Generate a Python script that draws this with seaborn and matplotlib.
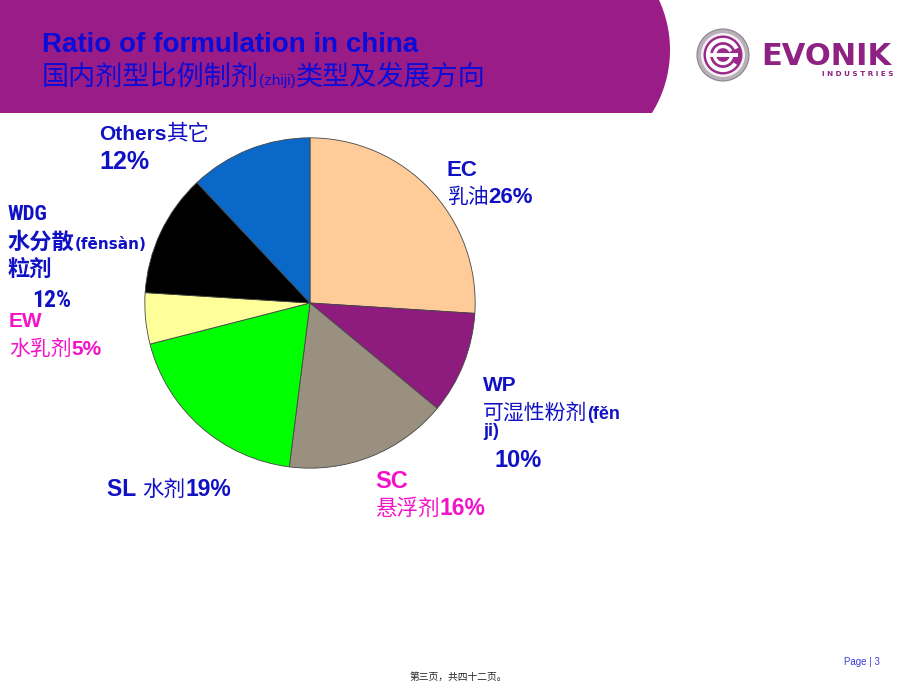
import numpy as np
import matplotlib
matplotlib.use("Agg")
import matplotlib.pyplot as plt
import seaborn as sns
from matplotlib.patches import Polygon, Circle, Arc
from matplotlib import font_manager as fm

# ---- data ----
categories = ["EC", "WP", "SC", "SL", "EW", "WDG", "Others"]
names_cn = ["乳油", "可湿性粉剂", "悬浮剂", "水剂", "水乳剂", "水分散粒剂", "其它"]
shares = [26, 10, 16, 19, 5, 12, 12]
slice_colors = ["#FFCC99", "#8E1B7E", "#999080", "#00FF00", "#FFFF99", "#000000", "#0A68C8"]

title_en = "Ratio of formulation in china"
title_cn_a = "国内剂型比例制剂"
title_cn_b = "(zhiji)"
title_cn_c = "类型及发展方向"

sns.set_theme(style="white")
plt.rcParams["font.family"] = ["Liberation Sans", "Noto Sans CJK SC", "DejaVu Sans"]

# narrow font for the WDG label if one is installed
NARROW = "DejaVu Sans"
NARROW_STRETCH = "normal"
_names = {f.name for f in fm.fontManager.ttflist}
for cand in ["Liberation Sans Narrow", "Arial Narrow", "Roboto Condensed",
             "Open Sans Condensed", "DejaVu Sans Condensed"]:
    if cand in _names:
        NARROW = cand
        break
else:
    if any(f.name == "DejaVu Sans" and f.stretch in ("condensed", "semi-condensed")
           for f in fm.fontManager.ttflist):
        NARROW_STRETCH = "condensed"

W, H = 920, 690
fig = plt.figure(figsize=(W / 100, H / 100), dpi=100)
ax = fig.add_axes([0, 0, 1, 1])
ax.set_xlim(0, W)
ax.set_ylim(H, 0)
ax.axis("off")
renderer = fig.canvas.get_renderer()

BLUE = "#1010C4"
MAG = "#F412C8"
LAT = "Liberation Sans"
CJK = "Noto Sans CJK SC"

# ---- header band ----
R, yc, xr = 119.0, 50.0, 670.0
ys = np.linspace(0, 113, 60)
xs = xr - R + np.sqrt(R ** 2 - (ys - yc) ** 2)
pts = [(0, 0)] + list(zip(xs, ys)) + [(0, 113)]
ax.add_patch(Polygon(pts, closed=True, facecolor="#9A1C86", edgecolor="none"))


def mixed(x, y, parts, color, stretch="normal"):
    cur = x
    for s, size, weight, fam in parts:
        t = ax.text(cur, y, s, fontsize=size, fontweight=weight, color=color,
                    family=[fam, CJK, "DejaVu Sans"], fontstretch=stretch,
                    ha="left", va="baseline")
        cur += t.get_window_extent(renderer).width


# title
mixed(42, 52, [(title_en, 20, "bold", LAT)], "#0C0CD8")
mixed(42, 85, [(title_cn_a, 19.5, "normal", CJK), (title_cn_b, 11, "normal", LAT),
               (title_cn_c, 19.5, "normal", CJK)], "#0C0CD8")

# ---- logo ----
cx, cy = 723, 55
ax.add_patch(Circle((cx, cy), 26, facecolor="#B8B0B8", edgecolor="#8C848C", lw=0.8))
ax.add_patch(Circle((cx, cy), 22, facecolor="#F4F0F4", edgecolor="none"))
ax.add_patch(Circle((cx, cy), 19.5, facecolor="#9A2A8A", edgecolor="none"))
ax.add_patch(Arc((cx, cy), 30, 30, theta1=35, theta2=335, color="white", lw=3.0))
ax.add_patch(Arc((cx, cy), 17, 17, theta1=10, theta2=335, color="white", lw=2.4))
ax.plot([cx - 15, cx + 15], [cy, cy], color="white", lw=2.8, solid_capstyle="butt")
ax.text(761, 65, "EVONIK", fontsize=22, fontweight="bold", color="#8E2282",
        family="DejaVu Sans", ha="left", va="baseline")
ax.text(894, 75.5, "I N D U S T R I E S", fontsize=5.2, fontweight="bold",
        color="#8E2282", family="DejaVu Sans", ha="right", va="baseline")

# ---- pie ----
pcx, pcy, pr = 310, 303, 166
pax = fig.add_axes([(pcx - pr) / W, 1 - (pcy + pr) / H, 2 * pr / W, 2 * pr / H])
pax.pie(shares, colors=slice_colors, startangle=90, counterclock=False, radius=1,
        wedgeprops=dict(edgecolor="#454545", linewidth=0.6))
pax.set_xlim(-1.005, 1.005)
pax.set_ylim(-1.005, 1.005)
pax.set_aspect("equal")
pax.axis("off")

pct = {c: f"{v}%" for c, v in zip(categories, shares)}

# ---- labels ----
# Others
mixed(99, 140, [("Others", 15, "bold", LAT), (names_cn[6], 15.5, "normal", CJK)], BLUE)
mixed(99, 169, [(pct["Others"], 18, "bold", LAT)], BLUE)
# EC
mixed(447, 176, [("EC", 16, "bold", LAT)], BLUE)
mixed(447, 203, [(names_cn[0], 15, "normal", CJK), (pct["EC"], 16, "bold", LAT)], BLUE)
# WP
mixed(483, 391, [("WP", 15, "bold", LAT)], BLUE)
mixed(483, 419, [(names_cn[1], 15, "normal", CJK), ("(fěn", 13, "bold", LAT)], BLUE)
mixed(483, 436, [("ji)", 13, "bold", LAT)], BLUE)
mixed(495, 467, [(pct["WP"], 17, "bold", LAT)], BLUE)
# SC
mixed(375, 488, [("SC", 17, "bold", LAT)], MAG)
mixed(375, 515, [(names_cn[2], 15.5, "normal", CJK), (pct["SC"], 16.5, "bold", LAT)], MAG)
# SL
mixed(107, 496, [("SL ", 16.5, "bold", LAT), (names_cn[3], 15.5, "normal", CJK),
                 (pct["SL"], 16.5, "bold", LAT)], BLUE)
# WDG (narrow face)
mixed(8, 220, [("WDG", 15, "bold", NARROW)], BLUE, NARROW_STRETCH)
mixed(8, 249, [(names_cn[5][:3], 16, "bold", CJK),
               ("(fēnsàn)", 11, "bold", "DejaVu Sans")], BLUE)
mixed(8, 277, [(names_cn[5][3:], 16, "bold", CJK)], BLUE)
mixed(32, 307, [(pct["WDG"], 17, "bold", NARROW)], BLUE, NARROW_STRETCH)
# EW
mixed(9, 327, [("EW", 15, "bold", LAT)], MAG)
mixed(9, 355, [(names_cn[4], 15, "normal", CJK), (pct["EW"], 15, "bold", LAT)], MAG)

# ---- footer ----
ax.text(880, 665, "Page | 3", fontsize=7, color="#3A3ADC", family=LAT,
        ha="right", va="baseline")
ax.text(458, 680, "第三页，共四十二页。", fontsize=7, color="#222222", family=CJK,
        fontweight="medium", ha="center", va="baseline")

fig.savefig("out.png", dpi=100)
